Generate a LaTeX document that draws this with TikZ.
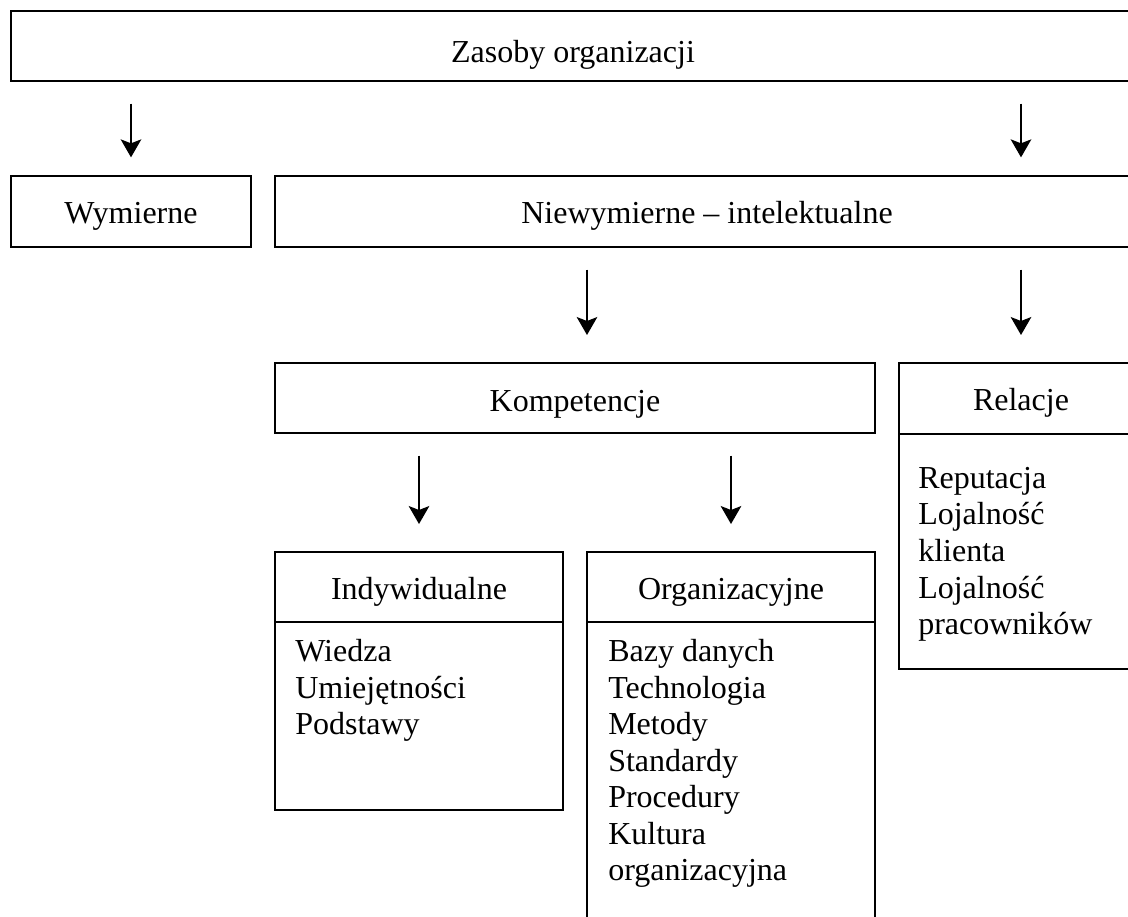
\documentclass[tikz,border=0pt]{standalone}
\usepackage{fontspec}
\setmainfont{Liberation Serif}
\usetikzlibrary{arrows.meta,positioning}

\begin{document}
\begin{tikzpicture}[
  x=0.75pt,y=-0.75pt,
  node distance=0pt,
  block/.style={draw,line width=1.3pt,inner sep=0pt,outer sep=0pt,
    minimum height=52.5pt,text height=18pt,text depth=0pt,
    align=center,font=\fontsize{24}{27}\selectfont},
  listbody/.style={draw,line width=1.3pt,inner sep=0pt,outer sep=0pt,
    minimum width=216pt},
  listtext/.style={inner sep=0pt,align=left,
    font=\fontsize{24}{27.4}\selectfont},
  arrow/.style={-{Stealth[length=13.5pt,width=15.5pt,inset=3pt]},line width=1pt,
    shorten <=17pt,shorten >=21pt}
]
\clip (0,0) rectangle (1128,917);
\node[block,minimum width=843pt,text height=25.5pt] (res) at (573,46) {Zasoby organizacji};
\node[block,minimum width=180pt,minimum height=53.25pt] (wym) at (131,211.5) {Wymierne};
\node[block,minimum width=648pt,minimum height=53.25pt] (niew) at (707,211.5) {Niewymierne – intelektualne};
\node[block,minimum width=450pt,text height=20pt] (komp) at (575,398) {Kompetencje};
\node[block,minimum width=183pt,minimum height=53.25pt] (rel) at (1021,398.5) {Relacje};
\node[listbody,minimum width=183pt,minimum height=176.25pt,below=of rel] (relbody) {};
\node[block,minimum width=216pt] (indyw) at (419,587) {Indywidualne};
\node[listbody,minimum height=141pt,below=of indyw] (indywbody) {};
\node[block,minimum width=216pt] (org) at (731,587) {Organizacyjne};
\node[listbody,minimum height=246pt,below=of org] (orgbody) {};
% lists
\node[listtext,below right=24.75pt and 14.25pt of relbody.north west] (rellist)
  {Reputacja\\Lojalność\\klienta\\Lojalność\\pracowników};
\node[listtext,below right=12.75pt and 15pt of indywbody.north west] (indywlist)
  {Wiedza\\Umiejętności\\Podstawy};
\node[listtext,below right=12.75pt and 15.75pt of orgbody.north west] (orglist)
  {Bazy danych\\Technologia\\Metody\\Standardy\\Procedury\\Kultura\\organizacyjna};
% arrows
\coordinate (kompin) at ([xshift=9pt]komp.north);
\draw[arrow,shorten >=14pt] (wym.north |- res.south) -- (wym.north);
\draw[arrow,shorten >=14pt] (rel.north |- res.south) -- (rel.north |- niew.north);
\draw[arrow] (kompin |- niew.south) -- (kompin);
\draw[arrow] (rel.north |- niew.south) -- (rel.north);
\draw[arrow] (indyw.north |- komp.south) -- (indyw.north);
\draw[arrow] (org.north |- komp.south) -- (org.north);
\end{tikzpicture}
\end{document}
